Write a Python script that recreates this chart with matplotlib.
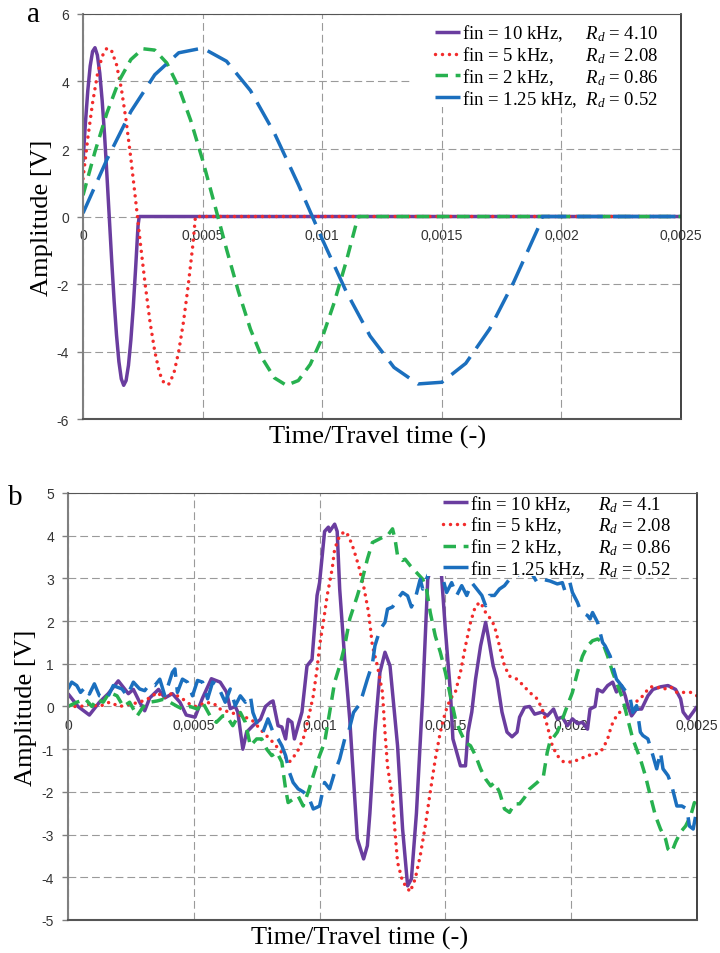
import numpy as np
import matplotlib.pyplot as plt
from matplotlib.patches import Rectangle

plt.rcParams['font.family'] = ['Liberation Sans', 'DejaVu Sans']
plt.rcParams['axes.unicode_minus'] = False
plt.rcParams['mathtext.fontset'] = 'custom'
plt.rcParams['mathtext.rm'] = 'Liberation Serif'
plt.rcParams['mathtext.it'] = 'Liberation Serif:italic'

# ---- panel a: input bursts (time in microseconds, amplitude in V)
ta_10 = [0, 10, 20, 30, 40, 50, 60, 70, 80, 90, 100, 110, 120, 130, 140, 150, 160, 170,
         180, 190, 200, 210, 220, 230, 235, 2500]
va_10 = [1.62, 2.77, 3.73, 4.46, 4.89, 5.00, 4.78, 4.25, 3.44, 2.42, 1.22, -0.05, -1.32,
         -2.50, -3.51, -4.30, -4.81, -5.00, -4.86, -4.41, -3.66, -2.69, -1.52, -0.27, 0, 0]
ta_5 = [0, 20, 40, 60, 80, 100, 120, 140, 160, 180, 200, 220, 240, 260, 280, 300, 320, 340,
        360, 380, 400, 420, 440, 460, 470, 2500]
va_5 = [1.12, 2.32, 3.37, 4.20, 4.75, 4.99, 4.90, 4.50, 3.80, 2.85, 1.72, 0.48, -0.81,
        -2.02, -3.12, -4.00, -4.64, -4.96, -4.96, -4.64, -4.00, -3.12, -2.03, -0.79, 0, 0]
ta_2 = [0, 50, 100, 150, 200, 250, 300, 350, 400, 450, 500, 550, 600, 650, 700, 750, 800,
        850, 900, 950, 1000, 1050, 1100, 1150, 2500]
va_2 = [0.63, 1.92, 3.07, 4.01, 4.65, 4.97, 4.93, 4.55, 3.83, 2.85, 1.67, 0.36, -0.97,
        -2.23, -3.34, -4.21, -4.78, -5.00, -4.86, -4.38, -3.59, -2.55, -1.34, 0, 0]
ta_125 = [0, 100, 200, 300, 400, 500, 600, 700, 800, 900, 1000, 1100, 1200, 1300, 1400,
          1500, 1600, 1700, 1800, 1900, 1920, 2500]
va_125 = [0.10, 1.69, 3.11, 4.20, 4.85, 4.99, 4.60, 3.73, 2.47, 0.95, -0.67, -2.22, -3.54,
          -4.47, -4.96, -4.91, -4.35, -3.33, -1.95, -0.38, 0, 0]

# ---- panel b: received signals
tb_10 = [0, 40, 85, 125, 160, 200, 240, 260, 285, 305, 325, 360, 385, 415, 445, 470, 505, 535,
         570, 605, 630, 645, 665, 675, 695, 710, 735, 765, 785, 805, 815, 835, 850, 865, 875,
         890, 900, 930, 950, 970, 990, 1000, 1020, 1035, 1040, 1060, 1070, 1080, 1100, 1120,
         1135, 1150, 1175, 1190, 1200, 1220, 1240, 1260, 1280, 1310, 1330, 1350, 1365, 1385,
         1410, 1430, 1460, 1485, 1500, 1520, 1530, 1545, 1560, 1580, 1590, 1605, 1620, 1640,
         1660, 1670, 1690, 1705, 1725, 1745, 1765, 1785, 1795, 1815, 1835, 1855, 1885, 1905,
         1930, 1945, 1965, 1985, 2005, 2025, 2045, 2065, 2075, 2095, 2105, 2125, 2145, 2165,
         2180, 2200, 2215, 2225, 2240, 2260, 2280, 2305, 2325, 2355, 2385, 2415, 2435, 2445,
         2465, 2485, 2500]
vb_10 = [0.3, 0.0, -0.2, 0.1, 0.3, 0.6, 0.3, 0.4, 0.1, -0.1, 0.2, 0.4, 0.2, 0.3, 0.1, -0.2,
         -0.25, 0.2, 0.65, 0.57, 0.34, -0.05, 0.0, -0.13, -1.0, -0.6, -0.45, -0.3, 0.0, 0.1,
         0.13, -0.45, -0.48, -0.76, -0.3, -0.37, -0.76, -0.13, 0.95, 1.1, 2.6, 2.9, 4.1, 4.2,
         4.1, 4.27, 4.1, 2.75, 1.1, -0.3, -1.7, -3.1, -3.57, -3.26, -2.5, -0.6, 0.8, 1.27, 0.95,
         -0.92, -2.87, -4.2, -4.04, -2.5, 0.25, 2.98, 3.6, 3.05, 1.8, 0.34, -0.76, -1.07, -1.39,
         -1.39, -0.6, -0.13, 0.64, 1.42, 1.97, 1.65, 0.95, 0.64, -0.13, -0.6, -0.71, -0.6,
         -0.25, -0.02, 0.0, -0.18, -0.13, -0.22, -0.06, -0.29, -0.25, -0.45, -0.29, -0.4, -0.37,
         -0.53, -0.06, 0.0, 0.4, 0.34, 0.49, 0.57, 0.34, 0.49, 0.25, 0.02, -0.22, -0.06, -0.06,
         0.25, 0.4, 0.46, 0.49, 0.4, 0.18, -0.13, -0.29, -0.13, 0.0]
tb_5 = [0, 50, 85, 125, 165, 205, 245, 285, 325, 355, 380, 405, 435, 455, 485, 505, 530, 555,
        570, 590, 605, 645, 670, 705, 735, 775, 815, 850, 880, 910, 935, 955, 975, 990, 1000,
        1015, 1030, 1050, 1060, 1080, 1100, 1115, 1135, 1155, 1175, 1195, 1210, 1230, 1250,
        1260, 1270, 1290, 1300, 1310, 1330, 1360, 1380, 1400, 1420, 1440, 1460, 1480, 1500,
        1520, 1540, 1560, 1580, 1600, 1620, 1640, 1660, 1680, 1695, 1715, 1735, 1755, 1785,
        1810, 1835, 1865, 1885, 1905, 1925, 1945, 1970, 2005, 2035, 2065, 2105, 2125, 2145,
        2160, 2180, 2205, 2235, 2255, 2275, 2295, 2315, 2340, 2365, 2395, 2420, 2445, 2475, 2500]
vb_5 = [0.0, 0.0, 0.05, 0.0, 0.1, 0.0, 0.05, 0.1, 0.2, 0.33, 0.2, 0.3, 0.25, 0.18, 0.05, 0.0,
        0.05, 0.1, 0.05, 0.04, -0.06, -0.14, -0.18, -0.25, -0.34, -0.6, -0.84, -1.08, -1.3,
        -1.08, -0.76, -0.29, 0.25, 0.88, 1.42, 1.97, 2.59, 3.22, 3.69, 4.0, 4.1, 4.0, 3.69,
        3.3, 2.82, 2.2, 1.42, 0.95, 0.33, -0.6, -1.39, -2.17, -2.94, -3.65, -4.1, -4.34, -4.04,
        -3.5, -2.8, -2.0, -1.23, -0.6, -0.13, 0.18, 0.34, 0.8, 1.42, 1.97, 2.36, 2.44, 2.2,
        2.05, 1.89, 1.42, 0.95, 0.71, 0.64, 0.49, 0.33, 0.18, -0.06, -0.45, -0.92, -1.15, -1.3,
        -1.3, -1.23, -1.15, -1.1, -1.0, -0.76, -0.45, -0.22, -0.06, 0.02, 0.1, 0.18, 0.33,
        0.46, 0.46, 0.4, 0.46, 0.33, 0.33, 0.33, 0.25]
tb_2 = [0, 35, 70, 95, 115, 140, 165, 195, 220, 245, 275, 300, 325, 355, 380, 405, 435, 455,
        485, 515, 535, 565, 590, 615, 630, 655, 685, 705, 725, 750, 770, 790, 810, 830, 850,
        865, 875, 895, 915, 935, 955, 975, 1000, 1020, 1040, 1060, 1080, 1100, 1120, 1150,
        1170, 1190, 1210, 1230, 1250, 1270, 1290, 1300, 1310, 1330, 1340, 1360, 1385, 1410,
        1425, 1440, 1460, 1480, 1500, 1520, 1540, 1560, 1580, 1600, 1620, 1640, 1660, 1680,
        1695, 1715, 1735, 1755, 1775, 1795, 1815, 1835, 1865, 1890, 1905, 1915, 1945, 1965,
        1985, 2005, 2025, 2045, 2065, 2085, 2105, 2125, 2145, 2165, 2185, 2205, 2225, 2245,
        2275, 2295, 2315, 2335, 2355, 2375, 2385, 2400, 2415, 2435, 2455, 2475, 2490, 2500]
vb_2 = [0.0, 0.1, 0.17, 0.0, 0.17, 0.1, 0.33, 0.25, 0.0, 0.1, -0.22, 0.0, 0.1, 0.13, 0.17,
        0.1, 0.0, -0.06, 0.0, -0.06, 0.1, -0.22, -0.37, -0.22, -0.22, -0.45, -0.14, -0.37,
        -0.92, -0.76, -0.76, -1.0, -1.15, -1.07, -1.3, -1.93, -2.25, -2.17, -2.1, -2.33, -2.0,
        -1.62, -1.15, -0.84, -0.14, 0.57, 0.95, 1.42, 2.05, 2.59, 2.98, 3.45, 3.84, 3.9, 3.96,
        4.0, 4.16, 3.92, 3.53, 3.42, 3.45, 3.3, 3.14, 2.98, 2.75, 2.2, 1.65, 1.27, 0.8, 0.25,
        -0.3, -0.6, -0.84, -0.92, -1.15, -1.46, -1.7, -1.86, -1.78, -2.0, -2.4, -2.48, -2.28,
        -2.28, -2.13, -1.93, -1.78, -1.62, -1.07, -0.84, -0.6, -0.3, 0.02, 0.33, 0.8, 1.18,
        1.42, 1.54, 1.58, 1.5, 1.18, 0.8, 0.49, 0.18, -0.3, -0.76, -1.23, -1.62, -2.1, -2.56,
        -2.87, -3.1, -3.34, -3.41, -3.18, -2.94, -2.8, -2.56, -2.25, -2.4]
tb_125 = [0, 15, 35, 50, 70, 85, 105, 125, 155, 180, 215, 235, 260, 285, 305, 325, 345, 365,
          385, 415, 425, 435, 455, 475, 495, 515, 535, 555, 575, 595, 625, 645, 665, 685, 705,
          725, 735, 755, 775, 795, 815, 835, 850, 865, 880, 895, 915, 935, 955, 975, 990, 1000,
          1020, 1040, 1060, 1080, 1100, 1115, 1135, 1155, 1170, 1190, 1210, 1220, 1240, 1260,
          1270, 1290, 1310, 1330, 1350, 1365, 1380, 1400, 1410, 1430, 1450, 1480, 1505, 1525,
          1545, 1565, 1585, 1605, 1625, 1645, 1660, 1675, 1695, 1715, 1735, 1755, 1785, 1815,
          1845, 1865, 1885, 1915, 1945, 1965, 1975, 1995, 2005, 2025, 2035, 2045, 2065, 2075,
          2085, 2105, 2115, 2125, 2135, 2155, 2165, 2180, 2200, 2220, 2235, 2245, 2260, 2275,
          2285, 2305, 2325, 2340, 2355, 2365, 2385, 2400, 2420, 2440, 2460, 2470, 2485, 2500]
vb_125 = [0.41, 0.57, 0.49, 0.33, 0.46, 0.29, 0.53, 0.25, 0.18, 0.49, 0.41, 0.25, 0.57, 0.41,
          0.37, 0.53, 0.49, 0.64, 0.25, 0.8, 0.88, 0.33, 0.64, 0.57, 0.25, 0.61, 0.57, 0.18,
          0.57, 0.49, 0.1, 0.41, 0.02, 0.25, 0.1, 0.25, -0.14, -0.45, -0.6, -0.29, -0.6, -0.76,
          -0.92, -1.15, -1.54, -1.78, -1.93, -2.0, -2.1, -2.4, -2.36, -2.33, -1.78, -1.93, -1.54,
          -1.23, -0.76, -0.6, -0.14, 0.02, 0.25, 0.64, 1.0, 1.42, 1.8, 1.97, 2.28, 2.33, 2.52,
          2.67, 2.59, 2.33, 2.52, 2.98, 2.75, 3.06, 3.3, 3.2, 2.67, 2.9, 2.6, 2.83, 2.6, 2.9,
          2.75, 2.6, 2.36, 2.6, 2.6, 2.75, 2.83, 2.98, 3.06, 3.2, 3.1, 2.9, 2.98, 2.94, 2.87,
          2.9, 2.71, 2.9, 2.67, 2.44, 2.28, 2.2, 2.13, 2.05, 2.2, 1.97, 1.74, 1.5, 1.42, 1.18,
          0.95, 0.64, 0.49, 0.33, 0.18, -0.14, 0.02, -0.6, -0.68, -0.76, -1.15, -1.46, -1.07,
          -1.46, -1.62, -1.86, -2.33, -2.33, -2.4, -2.8, -2.87, -2.4]

xticks = [0, 0.0005, 0.001, 0.0015, 0.002, 0.0025]
xtick_labels = ['0', '0,0005', '0,001', '0,0015', '0,002', '0,0025']
labels_a = ['fin = 10 kHz,     $R_d$ = 4.10', 'fin = 5 kHz,       $R_d$ = 2.08',
            'fin = 2 kHz,       $R_d$ = 0.86', 'fin = 1.25 kHz,  $R_d$ = 0.52']
labels_b = ['fin = 10 kHz,      $R_d$ = 4.1', 'fin = 5 kHz,        $R_d$ = 2.08',
            'fin = 2 kHz,        $R_d$ = 0.86', 'fin = 1.25 kHz,   $R_d$ = 0.52']

colors = ['#6a3d9f', '#f22b2b', '#27b14f', '#1b6fbe']
styles = ['-', (0, (0.01, 2.0)), (0, (3.6, 2.2)), (0, (7.5, 3.0))]
caps = ['round', 'round', 'butt', 'butt']

fig = plt.figure(figsize=(7.2, 9.54), dpi=100)
ax1 = fig.add_axes([0.1153, 0.5597, 0.8306, 0.4246])
ax2 = fig.add_axes([0.0944, 0.0346, 0.8736, 0.4476])


def draw(ax, series, labels, ylim, yticks, leg_xy, blank, xlab_x):
    for (t, v), lab, c, ls, cap in zip(series, labels, colors, styles, caps):
        ax.plot(np.array(t) * 1e-6, v, color=c, linestyle=ls, lw=2.5,
                dash_capstyle=cap, solid_capstyle='butt', label=lab)
    ax.set_xlim(0, 0.0025)
    ax.set_ylim(*ylim)
    ax.set_yticks(yticks)
    ax.set_xticks(xticks)
    ax.tick_params(axis='x', bottom=False, labelbottom=False)
    ax.tick_params(axis='y', length=4, width=1, color='#808080', pad=6,
                   labelsize=10, labelcolor='#333333')
    ax.set_axisbelow(True)
    ax.grid(True, color='#9a9a9a', linestyle=(0, (7, 3.6)), lw=0.8)
    ax.spines['left'].set_color('#808080')
    ax.spines['left'].set_linewidth(1.5)
    ax.spines['bottom'].set_color('#555555')
    ax.spines['bottom'].set_linewidth(1.5)
    ax.spines['top'].set_color('#555555')
    ax.spines['right'].set_color('#222222')
    ax.spines['right'].set_linewidth(1.2)
    for s in ax.spines.values():
        s.set_zorder(6)

    # x tick labels sit just under the zero line
    sec = ax.secondary_xaxis(0.4999)
    sec.set_xticks(xticks, xtick_labels)
    sec.tick_params(length=0, pad=8, labelsize=10, labelcolor='#333333')
    for s in sec.spines.values():
        s.set_visible(False)

    ax.set_ylabel('Amplitude [V]', family='Liberation Serif', fontsize=19)
    ax.yaxis.set_label_coords(-0.05, 0.5)
    ax.set_xlabel('Time/Travel time (-)', family='Liberation Serif', fontsize=19)
    ax.xaxis.set_label_coords(xlab_x, -0.015)

    # white block behind the legend (hides the lines under it, as in the original)
    ax.add_patch(Rectangle((blank[0], blank[1]), 1.0, 1.0, transform=ax.transAxes,
                           facecolor='white', edgecolor='none', zorder=4, clip_on=True))
    ax.legend(loc='upper left', bbox_to_anchor=leg_xy, borderaxespad=0,
              prop={'family': 'Liberation Serif', 'size': 13.5}, frameon=False,
              handlelength=1.35, handletextpad=0.1, labelspacing=0.05, borderpad=0.2)


draw(ax1, [(ta_10, va_10), (ta_5, va_5), (ta_2, va_2), (ta_125, va_125)], labels_a,
     (-6, 6), [-6, -4, -2, 0, 2, 4, 6], (0.582, 0.988), (0.550, 0.770), 0.493)
draw(ax2, [(tb_10, vb_10), (tb_5, vb_5), (tb_2, vb_2), (tb_125, vb_125)], labels_b,
     (-5, 5), [-5, -4, -3, -2, -1, 0, 1, 2, 3, 4, 5], (0.590, 1.009), (0.571, 0.806), 0.463)

fig.text(0.0375, 0.977, 'a', family='Liberation Serif', fontsize=21, ha='left', va='baseline')
fig.text(0.011, 0.4706, 'b', family='Liberation Serif', fontsize=21, ha='left', va='baseline')

fig.savefig('out.png', dpi=100)
